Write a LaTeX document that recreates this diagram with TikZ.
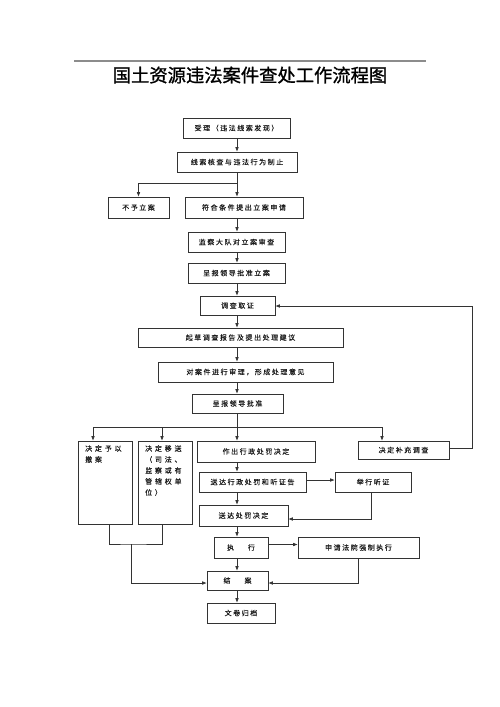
\documentclass[tikz,border=0pt]{standalone}
\usepackage{fontspec}
\newfontfamily\cn[LetterSpace=22,FakeBold=0.15]{Noto Sans CJK SC}
\newfontfamily\cnw[LetterSpace=40,FakeBold=0.15]{Noto Sans CJK SC}
\newfontfamily\cnt[FakeBold=1.2]{Noto Sans CJK SC}
\usetikzlibrary{arrows.meta}
\begin{document}
\begin{tikzpicture}[x=1pt,y=-1pt,
 ln/.style={draw=black!80, line width=0.6pt},
 arr/.style={ln, -{Latex[length=4.5pt,width=3.6pt]}},
 bx/.style={draw=black!80, line width=0.6pt, inner sep=0pt, font=\cn\fontsize{7}{9}\selectfont, text=black!90},
 bt/.style={inner sep=0pt, align=left, anchor=north west, font=\cnw\fontsize{7}{11}\selectfont, text=black!90},
]
\useasboundingbox (0,0) rectangle (500,707);
\fill[white] (0,0) rectangle (500,707);
\draw[black!45, line width=1.3pt] (74,61) -- (426,61);
\node[font=\cnt\fontsize{18.3}{20}\selectfont, inner sep=0pt, text=black] (title) at (250,75) {国土资源违法案件查处工作流程图};

\node[bx, minimum width=107, minimum height=20] (A) at (236.5,128) {受理（违法线索发现）};
\node[bx, minimum width=120, minimum height=20] (B) at (237,162) {线索核查与违法行为制止};
\node[bx, minimum width=61, minimum height=21] (C) at (138.5,207.5) {不予立案};
\node[bx, minimum width=118, minimum height=21] (D) at (244,207.5) {符合条件提出立案申请};
\node[bx, minimum width=97, minimum height=20] (E) at (236.5,242) {监察大队对立案审查};
\node[bx, minimum width=97, minimum height=20] (F) at (236.5,273) {呈报领导批准立案};
\node[bx, minimum width=75, minimum height=19] (G) at (237.5,305.5) {调查取证};
\node[bx, minimum width=205, minimum height=19] (H) at (240.5,337.5) {起草调查报告及提出处理建议};
\node[bx, minimum width=175, minimum height=20] (I) at (245.5,372) {对案件进行审理，形成处理意见};
\node[bx, minimum width=91, minimum height=19] (J) at (237.5,403.5) {呈报领导批准};
\node[bx, minimum width=54, minimum height=83] (K) at (105,482.5) {};
\node[bt] (Kt) at (85,445) {决定予以\\撤案};
\node[bx, minimum width=54, minimum height=83] (L) at (165,482.5) {};
\node[bt] (Lt) at (145,445) {决定移送\\（司法、\\监察或有\\管辖权单\\位）};
\node[bx, minimum width=118, minimum height=21] (M) at (256,451.5) {作出行政处罚决定};
\node[bx, minimum width=91, minimum height=18] (N) at (403.5,450) {决定补充调查};
\node[bx, minimum width=107, minimum height=20] (O) at (252.5,482) {送达行政处罚和听证告};
\node[bx, minimum width=76, minimum height=20] (P) at (373,482) {举行听证};
\node[bx, minimum width=89, minimum height=21] (Q) at (243.5,515.5) {送达处罚决定};
\node[bx, minimum width=54, minimum height=21] (R) at (241,547.5) {执\hspace{14pt}行};
\node[bx, minimum width=121, minimum height=21] (S) at (358.5,547.5) {申请法院强制执行};
\node[bx, minimum width=61, minimum height=19] (T) at (237.5,580.5) {结\hspace{14pt}案};
\node[bx, minimum width=68, minimum height=20] (U) at (241,613) {文卷归档};

\coordinate (ax) at (237,0);
\coordinate (kx) at (93,0);
\coordinate (lx) at (162,0);
\coordinate (nx) at (382,0);
\coordinate (kb) at (109,0);
\coordinate (j1) at (237,183);
\coordinate (j2) at (237,427);
\coordinate (m1) at (131,544);
\coordinate (fb) at (472,306);

\draw[arr] (ax|-A.south) -- (ax|-B.north);
\draw[ln] (ax|-B.south) -- (j1);
\draw[arr] (j1) -| (C.north);
\draw[arr] (j1) -- (ax|-D.north);
\draw[arr] (ax|-D.south) -- (ax|-E.north);
\draw[arr] (ax|-E.south) -- (ax|-F.north);
\draw[arr] (ax|-F.south) -- (ax|-G.north);
\draw[arr] (ax|-G.south) -- (ax|-H.north);
\draw[arr] (ax|-H.south) -- (ax|-I.north);
\draw[arr] (ax|-I.south) -- (ax|-J.north);
\draw[ln] (ax|-J.south) -- (j2);
\draw[arr] (j2) -| (kx|-K.north);
\draw[arr] (j2) -| (lx|-L.north);
\draw[arr] (j2) -- (ax|-M.north);
\draw[arr] (j2) -| (nx|-N.north);
\draw[arr] ([yshift=2pt]N.east) -| (fb) -- (G.east|-fb);
\draw[arr] (ax|-M.south) -- (ax|-O.north);
\draw[arr] ([yshift=2pt]O.east) -- ([yshift=2pt]P.west);
\draw[arr] ([xshift=-2pt]P.south) |- ([yshift=-3.5pt]Q.east);
\draw[arr] (ax|-O.south) -- (ax|-Q.north);
\draw[arr] (ax|-Q.south) -- (ax|-R.north);
\draw[arr] ([yshift=3pt]R.east) -- ([yshift=3pt]S.west);
\draw[arr] (ax|-R.south) -- (ax|-T.north);
\draw[arr] (S.south) |- ([yshift=-2.5pt]T.west -| T.east);
\draw[ln] (kb|-K.south) |- (m1) -| (lx|-L.south);
\draw[arr] (m1) |- ([yshift=-2.5pt]T.west);
\draw[arr] (ax|-T.south) -- (ax|-U.north);
\end{tikzpicture}
\end{document}
